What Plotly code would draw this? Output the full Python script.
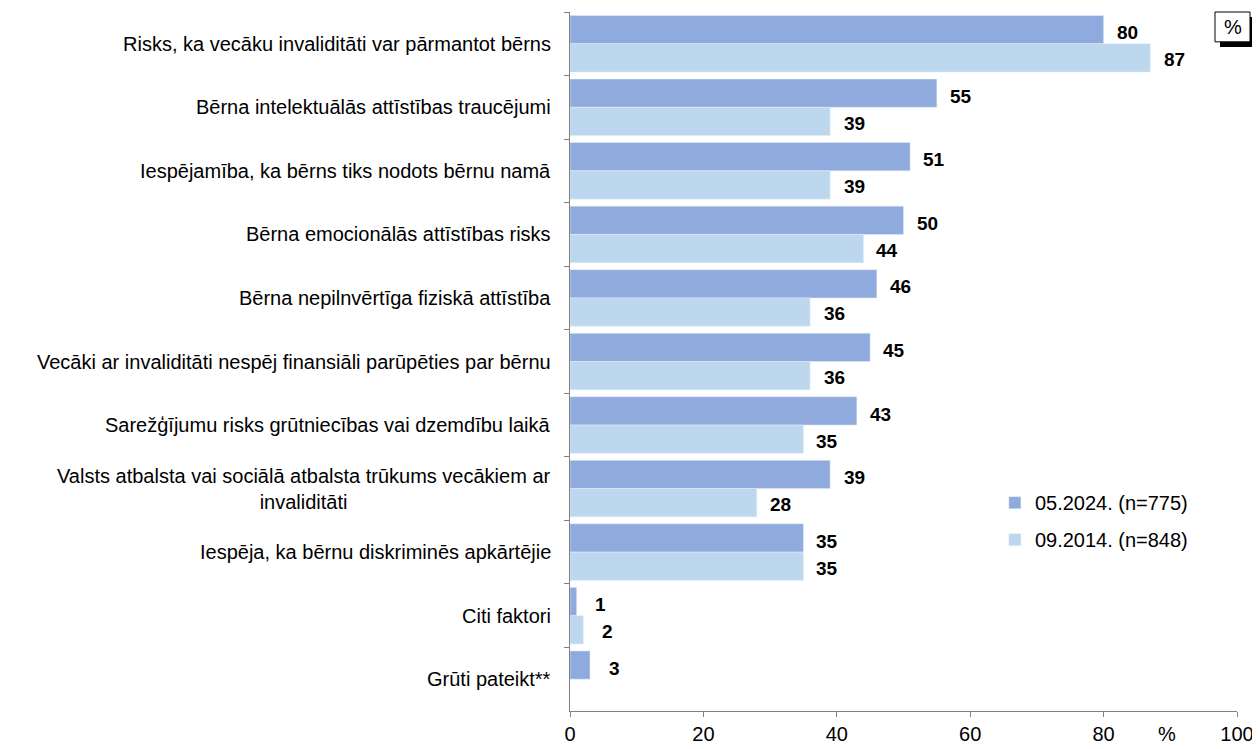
import plotly.graph_objects as go

categories = [
    "Risks, ka vecāku invaliditāti var pārmantot bērns",
    "Bērna intelektuālās attīstības traucējumi",
    "Iespējamība, ka bērns tiks nodots bērnu namā",
    "Bērna emocionālās attīstības risks",
    "Bērna nepilnvērtīga fiziskā attīstība",
    "Vecāki ar invaliditāti nespēj finansiāli parūpēties par bērnu",
    "Sarežģījumu risks grūtniecības vai dzemdību laikā",
    "Valsts atbalsta vai sociālā atbalsta trūkums vecākiem ar<br>invaliditāti",
    "Iespēja, ka bērnu diskriminēs apkārtējie",
    "Citi faktori",
    "Grūti pateikt**",
]
values_2024 = [80, 55, 51, 50, 46, 45, 43, 39, 35, 1, 3]
values_2014 = [87, 39, 39, 44, 36, 36, 35, 28, 35, 2, None]
series_names = ["05.2024. (n=775)", "09.2014. (n=848)"]
x_ticks = [0, 20, 40, 60, 80, 100]

dark = "#8FAADC"
light = "#BDD7EE"
font = "Liberation Sans, Arial, sans-serif"

fig = go.Figure()
fig.add_trace(go.Bar(y=categories, x=values_2024, orientation="h", name=series_names[0],
                     marker_color=dark, legendgroup="a"))
fig.add_trace(go.Bar(y=categories, x=values_2014, orientation="h", name=series_names[1],
                     marker_color=light, legendgroup="b"))

annotations = []
# value labels beside each bar of the pair
for vals, dy in [(values_2024, 11), (values_2014, -16)]:
    for cat, v in zip(categories, vals):
        if v is None:
            continue
        annotations.append(dict(x=v, y=cat, xref="x", yref="y", text=f"<b>{v}</b>",
                                showarrow=False, xanchor="center", xshift=24, yshift=dy,
                                font=dict(size=19, color="black", family=font)))

# category labels (centre-aligned multi-line like the original)
for cat in categories:
    annotations.append(dict(x=0, y=cat, xref="paper", yref="y", text=cat, showarrow=False,
                            xanchor="right", xshift=-17, align="center",
                            font=dict(size=20, color="black", family=font)))

# axis unit next to the 100 tick
annotations.append(dict(x=0.895, y=-0.033, xref="paper", yref="paper", text="%",
                        showarrow=False, xanchor="center", yanchor="middle",
                        font=dict(size=20, color="black", family=font)))

# page body has an 8px margin, so the figure is 8px smaller than the window
fig.update_layout(
    width=1252, height=741,
    margin=dict(l=562, r=23, t=4, b=35),
    plot_bgcolor="white", paper_bgcolor="white",
    barmode="group", bargap=0.11, bargroupgap=0,
    font=dict(family=font, size=20, color="black"),
    showlegend=True,
    legend=dict(x=0.637, y=0.326, xanchor="left", yanchor="top", traceorder="grouped",
                tracegroupgap=8, bgcolor="rgba(0,0,0,0)",
                font=dict(size=20, family=font, color="black")),
    annotations=annotations,
    xaxis=dict(range=[0, 100], tickvals=x_ticks, showgrid=False, zeroline=False,
               showline=True, linecolor="#808080", linewidth=1, ticks="outside",
               ticklen=5, tickcolor="#808080", tickfont=dict(size=20), fixedrange=True),
    yaxis=dict(autorange="reversed", showticklabels=False, showgrid=False, showline=True,
               linecolor="#808080", linewidth=1, ticks="outside", ticklen=5,
               tickcolor="#808080", tickson="boundaries"),
)

# boxed "%" with a drop shadow in the top-right corner
fig.add_shape(type="rect", xref="paper", yref="paper", x0=0.9745, x1=1.027,
              y0=0.9501, y1=0.9929, fillcolor="black", line=dict(width=0), layer="above")
fig.add_shape(type="rect", xref="paper", yref="paper", x0=0.967, x1=1.0195,
              y0=0.9573, y1=1.0, fillcolor="white", line=dict(color="black", width=1),
              layer="above")
fig.add_annotation(x=0.9933, y=0.9786, xref="paper", yref="paper", text="%", showarrow=False,
                   xanchor="center", yanchor="middle",
                   font=dict(size=20, color="black", family=font))

fig.write_html("out.html")
